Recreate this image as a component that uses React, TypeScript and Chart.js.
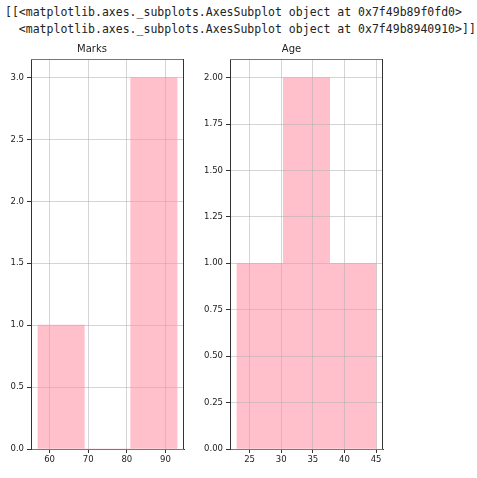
import React, { useEffect, useRef } from "react";
import { Chart, registerables } from "chart.js";

Chart.register(...registerables);

// ---- data ----
const headerLines = [
  "[[<matplotlib.axes._subplots.AxesSubplot object at 0x7f49b89f0fd0>",
  "  <matplotlib.axes._subplots.AxesSubplot object at 0x7f49b8940910>]]",
];

const marksTitle = "Marks";
const marksBinEdges = [57, 69, 81, 93];
const marksCounts = [1, 0, 3];
const marksXTicks = [60, 70, 80, 90];
const marksYTicks = [0, 0.5, 1.0, 1.5, 2.0, 2.5, 3.0];
const marksXRange = [55.2, 94.8];
const marksYRange = [0, 3.15];

const ageTitle = "Age";
const ageBinEdges = [23, 30.333, 37.667, 45];
const ageCounts = [1, 2, 1];
const ageXTicks = [25, 30, 35, 40, 45];
const ageYTicks = [0, 0.25, 0.5, 0.75, 1.0, 1.25, 1.5, 1.75, 2.0];
const ageXRange = [21.9, 46.1];
const ageYRange = [0, 2.1];

const BAR_COLOR = "#FFC0CB";
const GRID_COLOR = "rgba(176,176,176,0.55)";
const TEXT_COLOR = "#222222";
const SPINE_COLOR = "#333333";
const FONT = "'DejaVu Sans', sans-serif";

const spinePlugin = {
  id: "spines",
  afterDraw(chart: any) {
    const { ctx, chartArea } = chart;
    ctx.save();
    ctx.lineWidth = 1;
    const t = Math.round(chartArea.top) + 0.5;
    const r = Math.round(chartArea.right) - 0.5;
    ctx.strokeStyle = "#777777";
    ctx.beginPath();
    ctx.moveTo(Math.round(chartArea.left), t);
    ctx.lineTo(r, t);
    ctx.stroke();
    ctx.strokeStyle = SPINE_COLOR;
    ctx.beginPath();
    ctx.moveTo(r, Math.round(chartArea.top));
    ctx.lineTo(r, Math.round(chartArea.bottom));
    ctx.stroke();
    ctx.restore();
  },
};

function buildConfig(
  title: string,
  edges: number[],
  counts: number[],
  xTicks: number[],
  yTicks: number[],
  xRange: number[],
  yRange: number[],
  yDecimals: number,
  yAxisWidth: number,
  rightPad: number
): any {
  const data = counts.map((c, i) => ({ x: (edges[i] + edges[i + 1]) / 2, y: c }));
  const tickFont = { family: FONT, size: 8.5 };
  return {
    type: "bar",
    data: {
      datasets: [
        {
          data,
          backgroundColor: BAR_COLOR,
          borderWidth: 0,
          barThickness: "flex",
          categoryPercentage: 1,
          barPercentage: 1,
        },
      ],
    },
    options: {
      animation: false,
      responsive: false,
      devicePixelRatio: 1,
      layout: { padding: { left: 0, right: rightPad, top: 0, bottom: 0 } },
      plugins: {
        legend: { display: false },
        tooltip: { enabled: false },
        title: {
          display: true,
          text: title,
          color: TEXT_COLOR,
          font: { family: FONT, size: 10, weight: "normal" },
          padding: { top: 3, bottom: 4 },
        },
      },
      scales: {
        x: {
          type: "linear",
          min: xRange[0],
          max: xRange[1],
          offset: false,
          afterBuildTicks: (s: any) => {
            s.ticks = xTicks.map((v) => ({ value: v }));
          },
          afterFit: (s: any) => {
            s.height = 29;
          },
          grid: {
            offset: false,
            color: GRID_COLOR,
            lineWidth: 1,
            z: 1,
            drawTicks: true,
            tickLength: 4,
            tickColor: SPINE_COLOR,
          },
          border: { display: true, color: SPINE_COLOR, width: 1, z: 1 },
          ticks: {
            color: TEXT_COLOR,
            font: tickFont,
            padding: 2,
            maxRotation: 0,
            autoSkip: false,
            callback: (v: any) => String(v),
          },
        },
        y: {
          type: "linear",
          min: yRange[0],
          max: yRange[1],
          afterBuildTicks: (s: any) => {
            s.ticks = yTicks.map((v) => ({ value: v }));
          },
          afterFit: (s: any) => {
            s.width = yAxisWidth;
          },
          grid: {
            color: GRID_COLOR,
            lineWidth: 1,
            z: 1,
            drawTicks: true,
            tickLength: 4,
            tickColor: SPINE_COLOR,
          },
          border: { display: true, color: SPINE_COLOR, width: 1, z: 1 },
          ticks: {
            color: TEXT_COLOR,
            font: tickFont,
            padding: 3,
            autoSkip: false,
            callback: (v: any) => Number(v).toFixed(yDecimals),
          },
        },
      },
    },
    plugins: [spinePlugin],
  };
}

function HistChart(props: { config: any; left: number; top: number; width: number; height: number }) {
  const ref = useRef<HTMLCanvasElement | null>(null);
  useEffect(() => {
    if (!ref.current) return;
    const chart = new Chart(ref.current, props.config);
    return () => chart.destroy();
  }, []);
  return (
    <canvas
      ref={ref}
      width={props.width}
      height={props.height}
      style={{
        position: "absolute",
        left: props.left,
        top: props.top,
        width: props.width,
        height: props.height,
      }}
    />
  );
}

export default function App() {
  const marksConfig = buildConfig(
    marksTitle, marksBinEdges, marksCounts, marksXTicks, marksYTicks,
    marksXRange, marksYRange, 1, 31, 16
  );
  const ageConfig = buildConfig(
    ageTitle, ageBinEdges, ageCounts, ageXTicks, ageYTicks,
    ageXRange, ageYRange, 2, 30, 94
  );
  return (
    <div
      style={{
        position: "fixed",
        left: 0,
        top: 0,
        width: 477,
        height: 478,
        background: "#ffffff",
        overflow: "hidden",
      }}
    >
      <div
        style={{
          position: "absolute",
          left: 5,
          top: 4,
          fontFamily: "'DejaVu Sans Mono', monospace",
          fontSize: "11.5px",
          lineHeight: "16.7px",
          whiteSpace: "pre",
          color: TEXT_COLOR,
        }}
      >
        {headerLines.join("\n")}
      </div>
      <HistChart config={marksConfig} left={0} top={40} width={200} height={438} />
      <HistChart config={ageConfig} left={200} top={40} width={277} height={438} />
    </div>
  );
}
